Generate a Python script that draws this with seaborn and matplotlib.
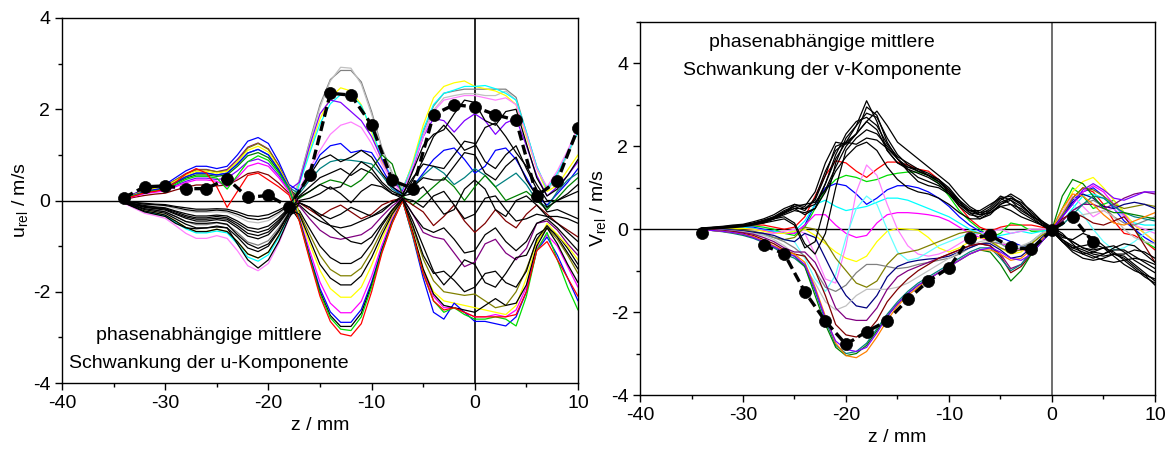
import numpy as np
import pandas as pd
import matplotlib
matplotlib.use("Agg")
import matplotlib.pyplot as plt
from matplotlib.ticker import MultipleLocator
import seaborn as sns

# ---------------- data ----------------
z_mm = list(range(-34, 11))          # 1 mm grid of the curves
z_dots = list(range(-34, 11, 2))     # 2 mm grid of the black dots

# u-component: phase-averaged fluctuation curves (values at z = -34..10 mm)
u_curves = {
    "u01": [-0.04,-0.10,-0.18,-0.21,-0.25,-0.35,-0.46,-0.53,-0.53,-0.49,-0.53,-0.70,-0.91,-0.98,-0.88,-0.60,-0.25,
            0.45,1.30,2.10,2.65,2.85,2.85,2.60,1.95,1.15,0.60,0.25,
            0.80,1.50,2.07,2.35,2.40,2.44,2.44,2.44,2.44,2.44,2.26,1.49,0.74,0.22,
            0.56,1.03,1.50],
    "u02": [-0.02,-0.05,-0.09,-0.11,-0.12,-0.18,-0.23,-0.26,-0.26,-0.25,-0.26,-0.35,-0.46,-0.49,-0.44,-0.30,-0.12,
            0.44,1.26,2.04,2.62,2.92,2.90,2.55,1.89,1.12,0.58,0.25,
            0.77,1.44,1.98,2.25,2.30,2.34,2.34,2.30,2.30,2.40,2.20,1.42,0.71,0.20,
            0.55,1.00,1.50],
    "u03": [-0.05,-0.14,-0.23,-0.27,-0.32,-0.45,-0.59,-0.68,-0.68,-0.63,-0.68,-0.90,-1.17,-1.26,-1.13,-0.77,-0.32,
            0.38,1.10,1.79,2.25,2.47,2.40,2.10,1.50,0.85,0.45,0.20,
            0.85,1.65,2.25,2.50,2.58,2.62,2.50,2.45,2.40,2.30,2.10,1.40,0.70,0.20,
            0.33,0.67,1.00],
    "u04": [-0.05,-0.14,-0.24,-0.29,-0.33,-0.48,-0.62,-0.71,-0.71,-0.67,-0.71,-0.95,-1.24,-1.33,-1.19,-0.81,-0.33,
            0.36,1.04,1.68,2.12,2.32,2.32,2.08,1.56,0.92,0.49,0.22,
            0.80,1.55,2.10,2.35,2.42,2.50,2.50,2.52,2.45,2.35,2.20,1.50,0.75,0.25,
            0.60,1.05,1.50],
    "u05": [0.03,0.10,0.16,0.20,0.23,0.33,0.42,0.49,0.49,0.46,0.49,0.65,0.85,0.91,0.81,0.55,0.23,
            0.40,1.20,1.90,2.20,2.15,1.95,1.75,1.40,0.90,0.45,0.20,
            0.70,1.40,1.80,1.75,1.50,1.75,1.90,1.75,1.45,1.70,1.80,1.20,0.55,0.10,
            0.30,0.55,0.85],
    "u06": [-0.06,-0.17,-0.28,-0.33,-0.39,-0.55,-0.72,-0.83,-0.83,-0.77,-0.83,-1.10,-1.43,-1.54,-1.38,-0.94,-0.39,
            0.25,0.70,1.10,1.45,1.65,1.72,1.60,1.25,0.80,0.40,0.15,
            0.75,1.40,1.95,2.20,2.25,2.30,2.30,2.25,2.20,2.25,2.10,1.45,0.70,0.30,
            0.65,1.10,1.60],
    "u07": [0.05,0.15,0.25,0.30,0.35,0.50,0.65,0.75,0.75,0.70,0.75,1.00,1.30,1.38,1.25,0.85,0.35,
            0.20,0.60,1.00,1.20,1.25,1.05,1.10,1.05,0.70,0.30,0.10,
            0.30,0.60,0.90,1.10,1.15,0.90,0.60,0.75,1.10,1.15,0.90,0.50,0.10,-0.10,
            0.15,0.40,0.70],
    "u08": [0.04,0.12,0.20,0.24,0.28,0.40,0.52,0.60,0.60,0.56,0.60,0.80,1.04,1.12,1.00,0.68,0.28,
            0.15,0.45,0.70,0.85,0.90,0.88,0.85,0.80,0.55,0.25,0.10,
            0.30,0.55,0.75,0.60,0.35,0.50,0.70,0.55,0.30,0.45,0.60,0.35,0.00,-0.15,
            0.20,0.45,0.60],
    "u09": [-0.03,-0.08,-0.13,-0.15,-0.18,-0.25,-0.33,-0.38,-0.38,-0.35,-0.38,-0.50,-0.65,-0.70,-0.63,-0.43,-0.18,
            0.10,0.30,0.50,0.60,0.70,0.55,0.70,0.60,0.35,0.15,0.05,
            0.45,0.90,1.40,1.65,1.40,1.10,1.20,1.60,1.70,1.40,1.05,0.75,0.35,0.00,
            0.00,0.10,0.20],
    "u10": [0.04,0.11,0.19,0.23,0.26,0.38,0.49,0.56,0.56,0.53,0.56,0.75,0.98,1.05,0.94,0.64,0.26,
            0.05,0.20,0.35,0.45,0.40,0.30,0.45,0.70,1.00,0.80,0.10,
            -0.10,0.10,0.30,0.50,0.30,0.00,0.30,0.55,0.30,0.00,0.10,0.20,0.00,-0.20,
            0.05,0.30,0.50],
    "u11": [-0.03,-0.09,-0.15,-0.18,-0.21,-0.30,-0.39,-0.45,-0.45,-0.42,-0.45,-0.60,-0.78,-0.84,-0.75,-0.51,-0.21,
            0.00,0.05,0.15,0.30,0.15,-0.05,0.20,0.35,0.30,0.15,0.10,
            0.30,0.50,0.45,0.45,0.75,1.05,1.00,0.60,0.45,0.75,0.95,0.45,0.10,-0.25,
            -0.20,-0.30,-0.40],
    "u12": [0.02,0.07,0.11,0.14,0.16,0.23,0.29,0.34,0.34,0.32,0.34,0.45,0.59,0.63,0.56,0.38,0.16,
            -0.05,-0.20,-0.35,-0.20,-0.10,-0.25,-0.40,-0.30,-0.10,0.00,0.05,
            -0.10,-0.25,-0.55,-0.35,-0.10,-0.45,-0.70,-0.50,-0.20,-0.45,-0.60,-0.30,-0.10,-0.30,
            -0.50,-0.65,-0.80],
    "u13": [-0.04,-0.12,-0.20,-0.24,-0.28,-0.40,-0.52,-0.60,-0.60,-0.56,-0.60,-0.80,-1.04,-1.12,-1.00,-0.68,-0.28,
            -0.10,-0.30,-0.45,-0.55,-0.60,-0.55,-0.45,-0.35,-0.20,-0.05,0.05,
            0.00,-0.15,0.10,0.20,-0.10,-0.40,-0.30,0.05,0.10,-0.20,-0.45,-0.40,-0.30,-0.35,
            -0.50,-0.70,-0.90],
    "u14": [0.05,0.14,0.23,0.27,0.32,0.45,0.59,0.68,0.68,0.63,0.68,0.90,1.17,1.26,1.13,0.77,0.32,
            -0.12,-0.40,-0.65,-0.80,-0.85,-0.80,-0.75,-0.60,-0.35,-0.12,0.05,
            -0.30,-0.70,-0.80,-0.85,-1.15,-1.45,-1.35,-0.95,-0.85,-1.15,-1.30,-1.05,-0.50,-0.45,
            -0.65,-0.95,-1.20],
    "u15": [-0.05,-0.14,-0.23,-0.27,-0.32,-0.45,-0.59,-0.68,-0.68,-0.63,-0.68,-0.90,-1.17,-1.26,-1.13,-0.77,-0.32,
            -0.22,-0.62,-1.00,-1.25,-1.38,-1.38,-1.25,-0.95,-0.55,-0.22,0.03,
            -0.45,-1.00,-1.55,-1.85,-1.60,-1.30,-1.40,-1.80,-1.90,-1.60,-1.25,-1.20,-0.75,-0.60,
            -0.75,-1.05,-1.40],
    "u16": [0.05,0.13,0.22,0.27,0.31,0.45,0.58,0.67,0.67,0.63,0.65,0.85,1.15,1.25,1.12,0.76,0.31,
            -0.26,-0.74,-1.20,-1.51,-1.65,-1.65,-1.48,-1.11,-0.66,-0.26,0.02,
            -0.60,-1.28,-1.76,-2.00,-2.04,-2.08,-2.05,-2.20,-2.35,-2.30,-2.00,-1.50,-0.90,-0.60,
            -0.85,-1.20,-1.60],
    "u17": [0.04,0.13,0.21,0.26,0.30,0.43,0.55,0.64,0.64,0.60,0.64,0.85,1.10,1.19,1.06,0.72,0.30,
            -0.33,-0.95,-1.53,-1.93,-2.12,-2.12,-1.90,-1.42,-0.84,-0.35,0.00,
            -0.72,-1.50,-2.00,-2.20,-2.25,-2.30,-2.35,-2.40,-2.45,-2.50,-2.30,-1.70,-0.95,-0.50,
            -0.75,-1.00,-1.30],
    "u18": [0.03,0.09,0.15,0.18,0.21,0.30,0.39,0.45,0.45,0.42,0.30,0.50,0.75,0.82,0.75,0.50,0.20,
            -0.38,-1.10,-1.79,-2.25,-2.46,-2.46,-2.21,-1.66,-0.98,-0.40,0.00,
            -0.75,-1.55,-2.10,-2.35,-2.35,-2.45,-2.55,-2.55,-2.50,-2.55,-2.40,-1.90,-1.05,-0.75,
            -1.00,-1.45,-1.90],
    "u19": [0.04,0.12,0.20,0.24,0.28,0.40,0.52,0.60,0.60,0.56,0.60,0.80,1.04,1.12,1.00,0.68,0.28,
            -0.41,-1.20,-1.93,-2.44,-2.67,-2.67,-2.39,-1.79,-1.06,-0.45,0.00,
            -0.80,-1.70,-2.45,-2.60,-2.25,-2.45,-2.65,-2.65,-2.70,-2.75,-2.55,-2.00,-1.10,-0.80,
            -1.20,-1.70,-2.20],
    "u20": [-0.02,-0.05,-0.08,-0.09,-0.11,-0.15,-0.20,-0.23,-0.23,-0.21,-0.23,-0.30,-0.39,-0.42,-0.38,-0.26,-0.11,
            -0.43,-1.24,-2.00,-2.52,-2.76,-2.76,-2.47,-1.85,-1.09,-0.47,0.00,
            -0.70,-1.50,-2.05,-2.30,-2.35,-2.40,-2.45,-2.30,-2.15,-2.30,-2.25,-1.85,-1.00,-0.60,
            -0.95,-1.40,-1.80],
    "u21": [0.04,0.11,0.18,0.21,0.25,0.35,0.46,0.53,0.53,0.49,0.25,0.55,0.85,0.98,0.88,0.60,0.25,
            -0.44,-1.26,-2.04,-2.57,-2.82,-2.85,-2.55,-1.90,-1.12,-0.48,0.00,
            -0.78,-1.60,-2.20,-2.45,-2.35,-2.50,-2.60,-2.60,-2.55,-2.60,-2.75,-2.10,-1.10,-0.70,
            -1.30,-1.90,-2.40],
    "u22": [0.03,0.10,0.17,0.20,0.25,0.40,0.58,0.70,0.60,0.30,-0.15,0.20,0.55,0.60,0.45,0.30,0.12,
            -0.46,-1.30,-2.10,-2.65,-2.92,-2.97,-2.70,-2.00,-1.15,-0.50,0.00,
            -0.75,-1.60,-2.20,-2.40,-2.35,-2.45,-2.55,-2.55,-2.55,-2.55,-2.50,-2.00,-1.10,-0.90,
            -1.30,-1.70,-2.10],
    "u23": [-0.05,-0.15,-0.25,-0.30,-0.35,-0.50,-0.60,-0.62,-0.60,-0.58,-0.60,-0.95,-1.30,-1.48,-1.30,-0.90,-0.38,
            -0.05,-0.15,-0.30,-0.40,-0.30,-0.15,-0.25,-0.35,-0.25,-0.05,0.10,
            0.15,0.30,0.00,-0.30,-0.20,0.25,0.45,0.25,-0.20,-0.35,0.00,0.10,-0.10,-0.35,
            -0.35,-0.40,-0.50],
    "u24": [-0.04,-0.11,-0.18,-0.21,-0.25,-0.35,-0.46,-0.50,-0.50,-0.48,-0.52,-0.75,-0.95,-1.05,-0.95,-0.65,-0.27,
            0.08,0.20,0.35,0.25,0.30,0.60,0.85,0.70,0.40,0.20,0.10,
            0.65,1.20,1.45,1.55,1.90,2.20,2.15,1.75,1.65,1.95,2.00,1.25,0.50,0.10,
            0.25,0.55,0.90],
    "u25": [-0.02,-0.07,-0.11,-0.14,-0.16,-0.23,-0.29,-0.34,-0.34,-0.32,-0.34,-0.45,-0.59,-0.63,-0.56,-0.38,-0.16,
            -0.05,-0.15,-0.35,-0.55,-0.75,-0.90,-0.95,-0.80,-0.50,-0.20,0.05,
            -0.30,-0.60,-0.70,-0.60,-0.85,-1.15,-1.10,-0.75,-0.60,-0.90,-1.10,-0.90,-0.50,-0.40,
            -0.60,-0.85,-1.10],
    "u26": [-0.01,-0.04,-0.06,-0.08,-0.09,-0.13,-0.16,-0.19,-0.19,-0.18,-0.19,-0.25,-0.33,-0.35,-0.31,-0.21,-0.09,
            0.20,0.55,0.90,1.00,0.85,0.95,1.10,0.95,0.60,0.30,0.15,
            0.50,0.80,0.75,0.70,1.00,1.30,1.25,0.85,0.70,1.00,1.20,0.70,0.25,-0.15,
            0.00,0.15,0.35],
    "u27": [-0.03,-0.08,-0.14,-0.17,-0.19,-0.28,-0.36,-0.41,-0.41,-0.39,-0.41,-0.55,-0.72,-0.77,-0.69,-0.47,-0.19,
            -0.30,-0.85,-1.40,-1.70,-1.85,-1.85,-1.65,-1.25,-0.75,-0.30,0.02,
            -0.55,-1.20,-1.60,-1.55,-1.75,-2.00,-1.90,-1.60,-1.55,-1.80,-1.90,-1.55,-0.85,-0.55,
            -0.80,-1.15,-1.50],
}
u_colors = {
    "u01": "#808080", "u02": "#c0c0c0", "u03": "#ffff00", "u04": "#00ffff",
    "u05": "#8000ff", "u06": "#ff80ff", "u07": "#0000ff", "u08": "#008080",
    "u09": "#000000", "u10": "#008000", "u11": "#000000", "u12": "#800000",
    "u13": "#000000", "u14": "#800080", "u15": "#000000", "u16": "#808000",
    "u17": "#ffff00", "u18": "#ff00ff", "u19": "#0000ff", "u20": "#000000",
    "u21": "#00dd00", "u22": "#ff0000", "u23": "#000000", "u24": "#000000",
    "u25": "#000000", "u26": "#000000", "u27": "#000000",
}
u_dots = [0.06, 0.30, 0.32, 0.26, 0.26, 0.48, 0.07, 0.11, -0.14, 0.56, 2.35, 2.31,
          1.66, 0.44, 0.26, 1.88, 2.10, 2.05, 1.88, 1.76, 0.10, 0.43, 1.59]

# v-component: phase-averaged fluctuation curves (values at z = -34..10 mm)
v_curves = {
    "vR": [0.0,0.02,0.04,0.06,0.08,0.1,0.1,0.05,0.0,0.05,0.3,0.8,1.3,1.65,1.6,1.4,1.25,
           1.45,1.62,1.62,1.55,1.45,1.4,1.2,0.9,0.55,0.25,0.05,
           -0.05,0.05,0.1,0.1,0.1,0.05,0.0,0.3,0.75,1.0,0.9,0.6,0.2,-0.1,-0.15,-0.3,-0.5],
    "vG": [0.0,0.02,0.03,0.05,0.07,0.08,0.05,0.0,-0.1,-0.15,0.05,0.5,0.95,1.2,1.3,1.25,1.15,
           1.2,1.3,1.35,1.38,1.38,1.3,1.1,0.8,0.45,0.2,0.0,
           -0.2,-0.1,0.15,0.1,-0.05,-0.05,0.0,0.5,1.0,0.8,0.5,0.6,0.7,0.4,0.0,-0.3,-0.45],
    "vB": [0.0,0.02,0.03,0.04,0.05,0.05,0.0,-0.05,-0.1,-0.1,0.1,0.6,1.0,1.1,1.05,0.85,0.6,
           0.75,0.95,1.05,1.05,1.0,0.9,0.75,0.55,0.3,0.1,-0.05,
           -0.15,-0.2,-0.3,-0.4,-0.45,-0.3,-0.05,0.3,0.7,0.9,1.0,0.8,0.5,0.2,0.0,-0.2,-0.35],
    "vC": [0.0,0.02,0.03,0.03,0.04,0.02,-0.02,-0.05,-0.1,-0.05,0.2,0.6,0.7,0.55,0.45,0.5,0.55,
           0.65,0.75,0.75,0.7,0.6,0.5,0.4,0.3,0.15,0.0,-0.1,
           -0.2,-0.15,-0.1,-0.05,-0.1,-0.05,0.0,0.2,0.5,0.8,0.85,0.75,0.6,0.3,0.15,0.1,0.1],
    "vM": [0.0,0.01,0.02,0.02,0.02,0.0,-0.03,-0.08,-0.1,-0.1,0.1,0.35,0.35,0.1,-0.1,-0.2,-0.15,
           0.15,0.35,0.4,0.4,0.38,0.35,0.3,0.2,0.05,-0.1,-0.2,
           -0.3,-0.35,-0.4,-0.5,-0.55,-0.3,0.0,0.3,0.6,0.9,1.05,0.9,0.6,0.35,0.1,-0.1,-0.3],
    "vY": [0.0,0.01,0.02,0.02,0.02,0.0,-0.05,-0.1,-0.1,-0.05,0.0,-0.15,-0.35,-0.55,-0.7,-0.78,-0.65,
           -0.3,-0.05,0.02,0.0,-0.02,-0.2,-0.45,-0.55,-0.45,-0.3,-0.2,
           -0.25,-0.45,-0.6,-0.55,-0.35,-0.15,0.0,0.4,0.9,1.15,1.25,1.0,0.7,0.4,0.1,-0.1,-0.3],
    "vPk": [0.0,0.0,0.0,-0.02,-0.05,-0.08,-0.1,-0.1,-0.05,0.0,-0.1,-0.6,-1.2,-1.3,-0.4,0.9,1.55,
            1.3,0.6,0.0,-0.4,-0.6,-0.65,-0.6,-0.5,-0.35,-0.2,-0.1,
            -0.05,0.0,-0.1,-0.05,0.0,0.0,0.0,0.4,0.8,0.55,0.3,0.45,0.5,0.3,0.1,0.0,-0.1],
    "vC2": [0.0,0.0,0.0,-0.02,-0.05,-0.1,-0.15,-0.2,-0.25,-0.3,-0.7,-1.2,-1.5,-1.1,-0.2,0.5,0.8,
            0.6,0.0,-0.55,-0.75,-0.7,-0.55,-0.4,-0.3,-0.2,-0.1,-0.1,
            -0.2,-0.35,-0.5,-0.45,-0.3,-0.1,0.0,0.35,0.6,0.35,0.0,-0.3,-0.5,-0.45,-0.3,-0.1,0.0],
    "vOl": [0.0,0.01,0.01,0.0,-0.02,-0.05,-0.1,-0.2,-0.25,-0.2,0.05,0.0,-0.3,-0.7,-1.0,-1.3,-1.4,
            -1.25,-0.85,-0.6,-0.55,-0.5,-0.4,-0.3,-0.2,-0.1,-0.05,-0.1,
            -0.3,-0.45,-0.55,-0.5,-0.35,-0.15,0.0,0.35,0.75,1.0,0.95,0.8,0.6,0.5,0.55,0.6,0.55],
    "vGy": [0.0,0.0,-0.01,-0.02,-0.05,-0.08,-0.12,-0.2,-0.3,-0.45,-0.65,-1.0,-1.4,-1.5,-1.35,-1.05,-0.85,
            -0.85,-0.9,-0.95,-0.92,-0.85,-0.8,-0.75,-0.7,-0.6,-0.45,-0.35,
            -0.3,-0.35,-0.5,-0.45,-0.3,-0.1,0.0,0.2,0.45,0.6,0.7,0.55,0.3,0.15,0.1,0.2,0.3],
    "vNv": [0.0,0.0,-0.01,-0.02,-0.04,-0.07,-0.1,-0.15,-0.25,-0.3,-0.1,-0.2,-0.7,-1.2,-1.6,-1.85,-1.9,
            -1.6,-1.15,-0.9,-0.8,-0.75,-0.72,-0.7,-0.65,-0.55,-0.45,-0.35,
            -0.35,-0.5,-0.7,-0.65,-0.45,-0.2,0.0,0.3,0.65,0.85,0.75,0.55,0.5,0.6,0.65,0.6,0.5],
    "vSi": [0.0,-0.01,-0.02,-0.04,-0.06,-0.1,-0.15,-0.25,-0.4,-0.6,-0.9,-1.3,-1.75,-1.95,-1.85,-1.6,-1.45,
            -1.45,-1.45,-1.4,-1.3,-1.15,-1.0,-0.85,-0.7,-0.55,-0.4,-0.3,
            -0.25,-0.3,-0.4,-0.4,-0.3,-0.1,0.0,0.15,0.3,0.35,0.4,0.45,0.3,0.0,-0.2,-0.3,-0.35],
    "vPu": [0.0,-0.01,-0.03,-0.05,-0.08,-0.12,-0.2,-0.3,-0.45,-0.55,-0.55,-0.8,-1.3,-1.9,-2.15,-2.2,-2.2,
            -1.9,-1.45,-1.15,-1.0,-0.9,-0.8,-0.7,-0.6,-0.5,-0.4,-0.35,
            -0.4,-0.6,-0.95,-0.85,-0.55,-0.25,0.0,0.2,0.45,0.6,0.6,0.5,0.6,0.75,0.85,0.9,0.85],
    "vMa": [0.0,-0.02,-0.04,-0.06,-0.1,-0.15,-0.25,-0.35,-0.5,-0.6,-0.65,-1.0,-1.6,-2.3,-2.55,-2.6,-2.5,
            -2.2,-1.75,-1.45,-1.2,-1.0,-0.85,-0.7,-0.6,-0.5,-0.4,-0.35,
            -0.4,-0.65,-1.05,-0.9,-0.6,-0.3,0.0,0.25,0.4,0.3,0.15,0.1,0.2,0.3,0.0,-0.4,-0.8],
    "vTe": [0.0,-0.03,-0.06,-0.1,-0.15,-0.22,-0.32,-0.45,-0.6,-0.7,-0.9,-1.5,-2.2,-2.8,-3.0,-2.95,-2.75,
            -2.4,-2.05,-1.75,-1.5,-1.3,-1.15,-1.0,-0.85,-0.7,-0.55,-0.45,
            -0.45,-0.7,-1.0,-0.85,-0.55,-0.25,0.0,0.1,0.35,0.6,0.8,0.75,0.55,0.4,0.3,0.25,0.2],
    "vDg": [0.0,-0.03,-0.05,-0.08,-0.13,-0.2,-0.3,-0.42,-0.55,-0.65,-0.9,-1.6,-2.3,-2.85,-3.05,-3.0,-2.8,
            -2.45,-2.1,-1.8,-1.55,-1.35,-1.2,-1.05,-0.9,-0.75,-0.6,-0.5,
            -0.55,-0.85,-1.25,-1.0,-0.6,-0.3,0.0,0.8,1.2,1.1,0.8,0.5,0.4,0.4,0.35,0.3,0.25],
    "vOr": [0.0,-0.03,-0.05,-0.08,-0.12,-0.18,-0.28,-0.4,-0.52,-0.6,-0.8,-1.4,-2.1,-2.75,-3.05,-3.1,-2.95,
            -2.6,-2.2,-1.85,-1.6,-1.4,-1.2,-1.05,-0.9,-0.75,-0.6,-0.5,
            -0.5,-0.6,-0.75,-0.7,-0.5,-0.25,0.0,0.5,0.85,0.8,0.6,0.35,0.15,0.1,0.2,0.3,0.4],
    "vVi": [0.0,-0.03,-0.05,-0.08,-0.12,-0.2,-0.3,-0.42,-0.55,-0.65,-0.85,-1.45,-2.15,-2.7,-2.9,-2.95,-2.85,
            -2.5,-2.1,-1.8,-1.55,-1.35,-1.2,-1.05,-0.9,-0.75,-0.6,-0.5,
            -0.45,-0.55,-0.7,-0.75,-0.6,-0.3,0.0,0.3,0.6,0.95,1.1,0.95,0.75,0.7,0.8,0.9,0.9],
    "vK1": [0.0,0.03,0.05,0.08,0.1,0.15,0.22,0.3,0.45,0.55,0.45,0.75,1.4,1.9,2.1,2.5,3.1,
            2.6,1.9,1.6,1.45,1.35,1.25,1.1,0.85,0.55,0.35,0.3,
            0.45,0.7,0.85,0.7,0.4,0.2,0.0,-0.25,-0.4,-0.5,-0.6,-0.65,-0.6,-0.7,-0.9,-1.1,-1.35],
    "vK2": [0.02,0.04,0.06,0.08,0.1,0.14,0.2,0.28,0.4,0.6,0.55,0.9,1.6,2.1,2.05,2.3,2.95,
            2.75,2.1,1.7,1.5,1.4,1.3,1.15,0.9,0.6,0.4,0.35,
            0.5,0.75,0.8,0.6,0.35,0.15,0.0,-0.15,-0.3,-0.45,-0.55,-0.6,-0.5,-0.5,-0.65,-0.8,-0.95],
    "vK3": [0.0,0.02,0.03,0.05,0.08,0.12,0.15,0.2,0.25,0.1,-0.45,-0.3,0.6,1.6,2.2,2.5,2.8,
            2.7,2.2,1.8,1.55,1.4,1.3,1.2,1.0,0.7,0.4,0.25,
            0.35,0.6,0.75,0.6,0.35,0.15,-0.05,-0.3,-0.5,-0.6,-0.55,-0.45,-0.4,-0.55,-0.75,-0.9,-1.05],
    "vK4": [0.03,0.05,0.07,0.1,0.12,0.18,0.25,0.35,0.5,0.6,0.5,0.6,1.1,1.7,2.1,2.3,2.6,
            2.4,1.9,1.6,1.5,1.45,1.35,1.2,0.95,0.65,0.45,0.4,
            0.55,0.8,0.7,0.45,0.3,0.2,0.05,-0.1,-0.35,-0.6,-0.7,-0.6,-0.45,-0.35,-0.4,-0.6,-0.8],
    "vK5": [0.0,0.01,0.02,0.04,0.06,0.1,0.15,0.25,0.3,0.15,-0.35,-0.6,-0.1,1.0,1.9,2.2,2.4,
            2.3,2.0,1.7,1.45,1.25,1.15,1.05,0.9,0.65,0.45,0.35,
            0.4,0.55,0.6,0.5,0.3,0.1,-0.05,-0.25,-0.45,-0.55,-0.65,-0.75,-0.8,-0.75,-0.7,-0.75,-0.85],
    "vK6": [0.02,0.04,0.05,0.07,0.09,0.13,0.18,0.25,0.38,0.5,0.5,0.7,1.3,2.0,2.1,2.05,2.2,
            2.15,1.95,1.7,1.4,1.15,1.05,1.0,0.85,0.6,0.45,0.45,
            0.6,0.75,0.6,0.4,0.25,0.1,-0.05,-0.3,-0.45,-0.4,-0.35,-0.45,-0.65,-0.85,-1.0,-1.1,-1.2],
    "vK7": [0.0,0.02,0.04,0.06,0.08,0.12,0.17,0.25,0.35,0.45,0.4,0.5,0.9,1.4,1.75,2.0,2.1,
            1.9,1.5,1.2,1.0,0.9,0.85,0.75,0.6,0.4,0.25,0.25,
            0.4,0.55,0.45,0.3,0.2,0.1,0.0,-0.15,-0.3,-0.45,-0.5,-0.45,-0.55,-0.75,-0.95,-1.15,-1.3],
    "vK8": [0.01,0.03,0.05,0.07,0.1,0.14,0.2,0.3,0.42,0.5,0.35,0.5,1.1,1.8,2.3,2.6,2.7,
            2.5,2.05,1.75,1.6,1.45,1.3,1.15,0.95,0.7,0.5,0.35,
            0.4,0.6,0.7,0.55,0.35,0.15,0.0,-0.2,-0.25,-0.1,-0.2,-0.4,-0.6,-0.6,-0.5,-0.55,-0.7],
    "vK9": [0.01,0.02,0.04,0.06,0.09,0.13,0.19,0.27,0.4,0.55,0.6,0.65,0.95,1.5,2.0,2.3,2.6,
            2.85,2.5,2.1,1.9,1.7,1.5,1.3,1.1,0.8,0.55,0.4,
            0.45,0.65,0.75,0.65,0.45,0.2,0.0,-0.3,-0.55,-0.7,-0.75,-0.7,-0.6,-0.65,-0.85,-1.05,-1.25],
}
v_colors = {
    "vR": "#ff0000", "vG": "#00dd00", "vB": "#0000ff", "vC": "#00ffff", "vM": "#ff00ff",
    "vY": "#ffff00", "vPk": "#ff80ff", "vC2": "#66ffff", "vOl": "#808000", "vGy": "#808080",
    "vNv": "#000080", "vSi": "#c0c0c0", "vPu": "#800080", "vMa": "#800000", "vTe": "#008080",
    "vDg": "#008000", "vOr": "#ff8000", "vVi": "#8000ff",
    "vK1": "#000000", "vK2": "#000000", "vK3": "#000000", "vK4": "#000000", "vK5": "#000000",
    "vK6": "#000000", "vK7": "#000000", "vK8": "#000000", "vK9": "#000000",
}
v_dots = [-0.10, np.nan, np.nan, -0.39, -0.59, -1.51, -2.22, -2.78, -2.47, -2.21, -1.69, -1.25,
          -0.93, -0.22, -0.14, -0.44, -0.48, -0.02, 0.30, -0.32, np.nan, np.nan, np.nan]

# ---------------- style ----------------
sns.set_style("ticks")
plt.rcParams["font.family"] = ["Liberation Sans", "DejaVu Sans"]
plt.rcParams["mathtext.fontset"] = "custom"
plt.rcParams["mathtext.rm"] = "Liberation Sans"
plt.rcParams["mathtext.it"] = "Liberation Sans:italic"
plt.rcParams["axes.unicode_minus"] = False
for key in ("text.color", "axes.labelcolor", "xtick.color", "ytick.color",
            "xtick.labelcolor", "ytick.labelcolor", "axes.edgecolor"):
    plt.rcParams[key] = "black"

bad = [k for d in (u_curves, v_curves) for k, v in d.items() if len(v) != len(z_mm)]
if bad:
    raise ValueError("wrong length: " + ", ".join(bad))

W, H = 1171, 455
fig = plt.figure(figsize=(W / 100, H / 100), dpi=100)
axL = fig.add_axes([62 / W, 1 - 383 / H, (578 - 62) / W, (383 - 18) / H])
axR = fig.add_axes([640 / W, 1 - 395 / H, (1155 - 640) / W, (395 - 22) / H])


def to_long(curves):
    df = pd.DataFrame(curves)
    df["z"] = z_mm
    return df.melt(id_vars="z", var_name="curve", value_name="val")


def panel(ax, curves, colors, dots, ylim, ylabel, lines, text_x, text_y, vline_color):
    ax.axhline(0, color="black", lw=1.0, zorder=1.5)
    ax.axvline(0, color=vline_color, lw=1.2, zorder=1.5)
    df = to_long(curves)
    sns.lineplot(data=df, x="z", y="val", hue="curve", hue_order=list(curves),
                 palette=colors, estimator=None, sort=False, legend=False,
                 lw=0.9, ax=ax)
    ax.plot(z_dots, dots, color="black", lw=2.4, ls=(0, (3, 1.4)), zorder=4)
    sns.scatterplot(x=z_dots, y=dots, color="black", s=75, edgecolor="black",
                    linewidth=0.5, zorder=5, ax=ax, legend=False)
    ax.set_xlim(-40, 10)
    ax.set_ylim(*ylim)
    ax.xaxis.set_major_locator(MultipleLocator(10))
    ax.xaxis.set_minor_locator(MultipleLocator(5))
    ax.yaxis.set_major_locator(MultipleLocator(2))
    ax.yaxis.set_minor_locator(MultipleLocator(1))
    ax.tick_params(which="major", direction="out", length=5, width=1, labelsize=14,
                   top=False, right=False, colors="black")
    ax.tick_params(which="minor", direction="out", length=3, width=1,
                   top=False, right=False, colors="black")
    for s in ax.spines.values():
        s.set_visible(True)
        s.set_color("black")
        s.set_linewidth(1.0)
    ax.set_xlabel("z / mm", fontsize=14, color="black")
    ax.set_ylabel(ylabel, fontsize=14, labelpad=2, color="black")
    for txt, ty in zip(lines, text_y):
        ax.text(text_x, ty, txt, ha="center", va="center", fontsize=14,
                color="black", zorder=6)


panel(axL, u_curves, u_colors, u_dots, (-4, 4), r"u$_{\mathrm{rel}}$ / m/s",
      ["phasenabhängige mittlere", "Schwankung der u-Komponente"], -25.8, [-2.95, -3.57],
      "black")
panel(axR, v_curves, v_colors, v_dots, (-4, 5), r"V$_{\mathrm{rel}}$ / m/s",
      ["phasenabhängige mittlere", "Schwankung der v-Komponente"], -22.3, [4.5, 3.84],
      "#555555")
axR.set_yticks([-4, -2, 0, 2, 4])

fig.savefig("out.png", dpi=100)
